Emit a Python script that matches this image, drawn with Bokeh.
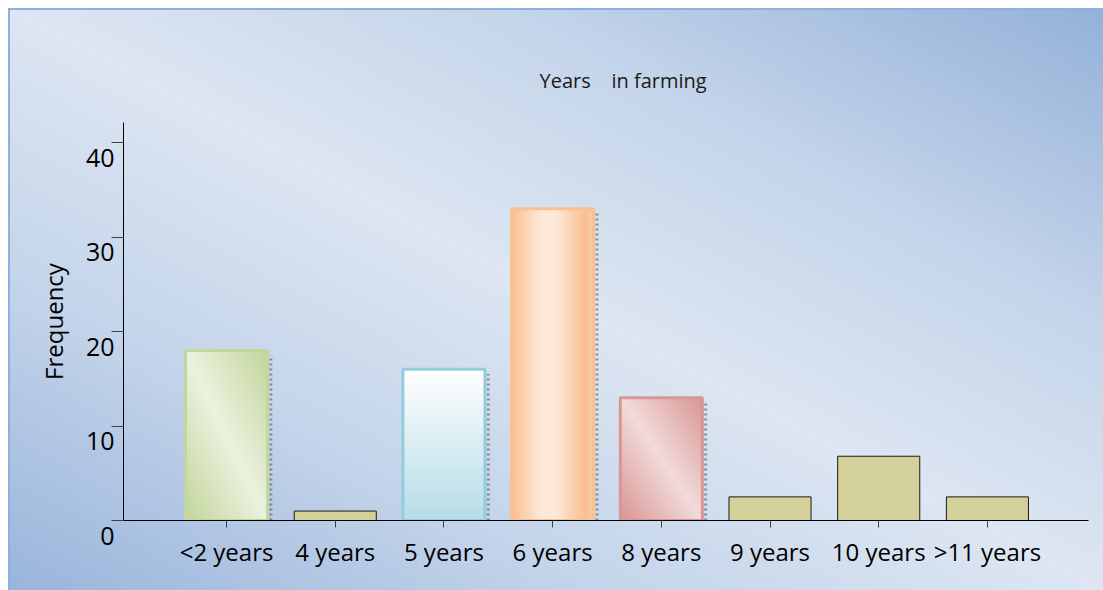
import numpy as np
from bokeh.plotting import figure
from bokeh.models import FixedTicker, Range1d
from bokeh.embed import file_html
from bokeh.resources import INLINE

# ---------------- data ----------------
categories = ["<2 years", "4 years", "5 years", "6 years", "8 years",
              "9 years", "10 years", ">11 years"]
frequency = [18, 1, 16, 33, 13, 2.5, 6.8, 2.5]
y_ticks = [0, 10, 20, 30, 40]
title_text = "Years \u00a0\u00a0\u00a0in farming"
y_label = "Frequency"

# ---------------- styles ----------------
BAR_W = 0.755
X_START, X_END = 0.052, 8.93
Y_START, Y_END = 0.0, 42.12
FONT = "Open Sans"
PLAIN_FILL = "#d4d09a"
# gradient styles per category: (kind, dark colour, light colour, border colour)
gradient_styles = {
    "<2 years": ("diag", "#c3d69b", "#ecf2e0", "#c3d69b"),
    "5 years": ("vert", "#b7dde8", "#ffffff", "#93cddd"),
    "6 years": ("horiz", "#fac090", "#fde9d9", "#fac090"),
    "8 years": ("diag", "#d99694", "#f2dcdb", "#d99694"),
}


def hex2rgb(h):
    return np.array([int(h[i:i + 2], 16) for i in (1, 3, 5)], dtype=float)


def gradient_image(kind, dark, light, n=200):
    yy, xx = np.mgrid[0:n, 0:n] / (n - 1.0)  # row 0 = bottom
    if kind == "diag":
        t = (xx + yy) / 2.0
        w = 1.0 - np.abs(2.0 * t - 1.0)
    elif kind == "vert":
        w = yy
    else:
        w = np.interp(xx, [0.0, 0.35, 0.55, 0.9, 1.0], [0.0, 1.0, 1.0, 0.0, 0.35])
    d, l = hex2rgb(dark), hex2rgb(light)
    rgb = d[None, None, :] + (l - d)[None, None, :] * w[..., None]
    img = np.empty((n, n), dtype=np.uint32)
    view = img.view(dtype=np.uint8).reshape((n, n, 4))
    view[..., :3] = np.clip(rgb, 0, 255).astype(np.uint8)
    view[..., 3] = 255
    return img


xs = [i + 1 for i in range(len(categories))]

p = figure(width=1095, height=582,
           x_range=Range1d(X_START, X_END), y_range=Range1d(Y_START, Y_END),
           output_backend="svg", toolbar_location=None,
           min_border_left=115, min_border_right=15,
           min_border_top=114, min_border_bottom=70)
p.styles = {
    "margin": "8px 0 0 8px",
    "background": "linear-gradient(to top right, #99b5db 0%, #c4d4ea 27%, #dde6f2 50%, #c4d4ea 73%, #93b1d8 100%)",
    "box-shadow": "inset 2px 2px 0 0 #8eb1dc",
}
p.background_fill_alpha = 0
p.border_fill_alpha = 0
p.outline_line_color = None
p.grid.visible = False

# plain bars
plain_x = [x for x, c in zip(xs, categories) if c not in gradient_styles]
plain_v = [v for v, c in zip(frequency, categories) if c not in gradient_styles]
p.vbar(x=plain_x, top=plain_v, width=BAR_W, fill_color=PLAIN_FILL,
       line_color="#1a1a1a", line_width=1)

# gradient bars
g_x, g_v, g_img, g_border = [], [], [], []
for x, v, c in zip(xs, frequency, categories):
    if c in gradient_styles:
        kind, dark, light, border = gradient_styles[c]
        g_x.append(x)
        g_v.append(v)
        g_img.append(gradient_image(kind, dark, light))
        g_border.append(border)

# shadows on right side
p.segment(x0=[x + BAR_W / 2 + 0.03 for x in g_x], y0=[0] * len(g_x),
          x1=[x + BAR_W / 2 + 0.03 for x in g_x], y1=[v - 0.5 for v in g_v],
          line_color="#4d4d4d", line_alpha=0.55, line_width=3, line_dash="2 3")

p.image_rgba(image=g_img, x=[x - BAR_W / 2 for x in g_x], y=[0] * len(g_x),
             dw=[BAR_W] * len(g_x), dh=g_v)
p.vbar(x=g_x, top=g_v, width=BAR_W, fill_alpha=0,
       line_color=g_border, line_width=3)

# axes
xa = p.xaxis[0]
xa.ticker = FixedTicker(ticks=xs)
xa.major_label_overrides = {x: c for x, c in zip(xs, categories)}
xa.major_tick_in = 0
xa.major_tick_out = 7
xa.minor_tick_line_color = None
xa.axis_line_color = "#000000"
xa.major_tick_line_color = "#404040"
xa.major_label_text_font = FONT
xa.major_label_text_font_size = "24px"
xa.major_label_text_color = "#000000"
xa.major_label_standoff = 7

ya = p.yaxis[0]
ya.ticker = FixedTicker(ticks=y_ticks)
# leading blank line: the tick values sit a little below their ticks, as in the reference
ya.major_label_overrides = {t: "\n" + str(t) for t in y_ticks}
ya.major_tick_in = 0
ya.major_tick_out = 12
ya.minor_tick_line_color = None
ya.axis_line_color = "#000000"
ya.major_tick_line_color = "#404040"
ya.major_label_text_font = FONT
ya.major_label_text_font_size = "25px"
ya.major_label_text_line_height = 0.85
ya.major_label_text_color = "#000000"
ya.major_label_standoff = -3
ya.axis_label = y_label
ya.axis_label_text_font = FONT
ya.axis_label_text_font_size = "24px"
ya.axis_label_text_font_style = "normal"
ya.axis_label_text_color = "#000000"
ya.axis_label_standoff = 13

p.title.text = title_text
p.title.text_font = FONT
p.title.text_font_size = "20px"
p.title.text_font_style = "normal"
p.title.text_color = "#1a1a1a"
p.title.align = "left"
p.title.offset = 416
p.title.standoff = 58

open("out.html", "w").write(file_html(p, INLINE))
